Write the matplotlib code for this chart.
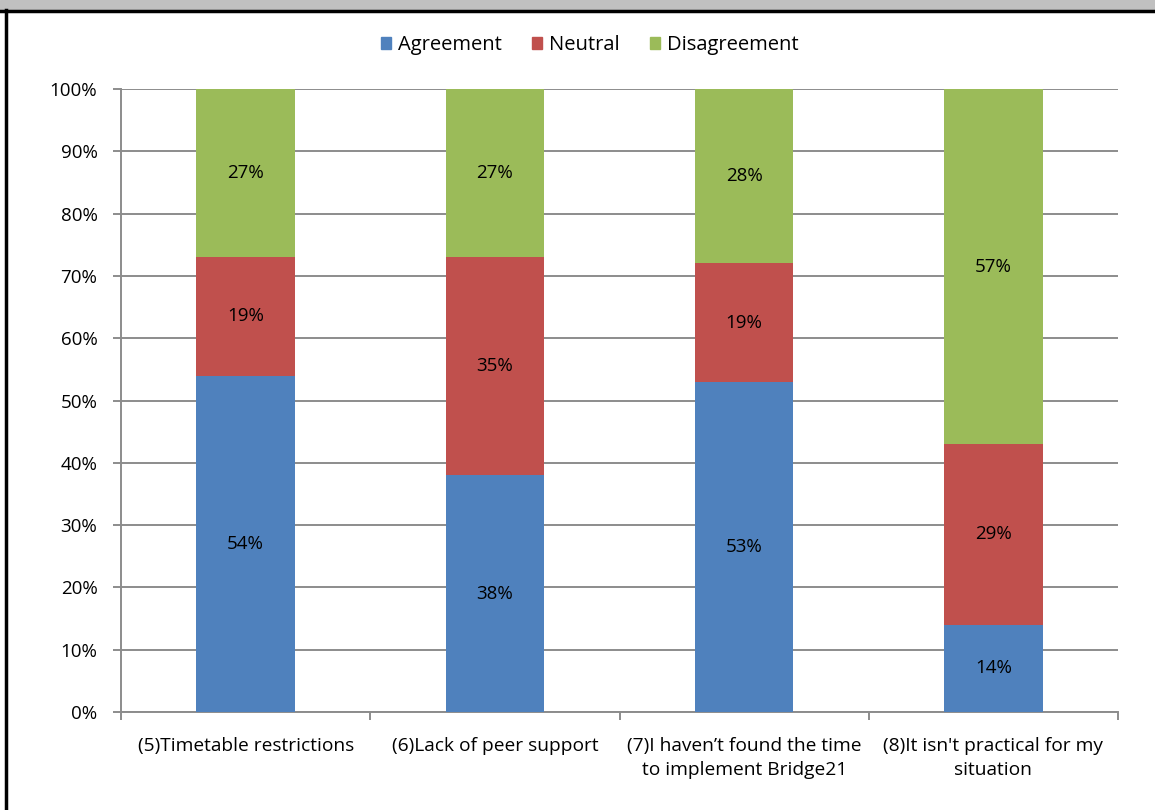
import matplotlib.pyplot as plt
from matplotlib.patches import Rectangle
from matplotlib.lines import Line2D
import numpy as np

categories = ["(5)Timetable restrictions", "(6)Lack of peer support",
              "(7)I haven\u2019t found the time\nto implement Bridge21",
              "(8)It isn't practical for my\nsituation"]
agreement = [54, 38, 53, 14]
neutral = [19, 35, 19, 29]
disagreement = [27, 27, 28, 57]
series_names = ["Agreement", "Neutral", "Disagreement"]
colors = ["#4F81BD", "#C0504D", "#9BBB59"]

plt.rcParams["font.family"] = ["Open Sans", "DejaVu Sans"]
fs = 13.8

fig = plt.figure(figsize=(11.55, 8.1), dpi=100)
W, H = 1155, 810
ax = fig.add_axes([121 / W, 1 - 712 / H, (1118 - 121) / W, (712 - 89) / H])

x = np.arange(len(categories))
bottom = np.zeros(len(categories))
for name, vals, c in zip(series_names, [agreement, neutral, disagreement], colors):
    vals = np.array(vals)
    ax.bar(x, vals, 0.395, bottom=bottom, color=c, label=name, zorder=3)
    for xi, b, v in zip(x, bottom, vals):
        ax.text(xi, b + v / 2, f"{v}%", ha="center", va="center", fontsize=13.5, color="black", zorder=4)
    bottom += vals

ax.set_xlim(-0.5, len(categories) - 0.5)
ax.set_ylim(0, 100)
ax.set_yticks(range(0, 101, 10))
ax.set_yticklabels([f"{v}%" for v in range(0, 101, 10)], fontsize=13.5)
ax.yaxis.grid(True, color="#8C8C8C", linewidth=1.4, zorder=0)
ax.set_xticks(np.arange(-0.5, len(categories), 1))
ax.set_xticklabels([])
ax.set_xticks(x, minor=True)
ax.set_xticklabels(categories, minor=True, fontsize=fs, linespacing=1.45)
ax.tick_params(axis="x", which="minor", length=0, pad=18)
ax.tick_params(axis="x", which="major", length=6, color="#8C8C8C", width=1.4)
ax.tick_params(axis="y", length=6, color="#8C8C8C", width=1.4, pad=11)
for s in ["top", "right"]:
    ax.spines[s].set_visible(False)
for s in ["left", "bottom"]:
    ax.spines[s].set_color("#8C8C8C")
    ax.spines[s].set_linewidth(1.4)

handles = [Rectangle((0, 0), 1, 1, color=c) for c in colors]
fig.legend(handles, series_names, loc="center", bbox_to_anchor=(590 / W, 1 - 45 / H), ncol=3,
           frameon=False, fontsize=14.5, handlelength=0.5, handleheight=0.5, handletextpad=0.35,
           columnspacing=1.5)

# gray header band and borders
fig.add_artist(Rectangle((0, 1 - 10 / H), 1, 10 / H, transform=fig.transFigure, color="#C0C0C0"))
fig.add_artist(Line2D([0, 1], [1 - 11 / H, 1 - 11 / H], transform=fig.transFigure, color="black", linewidth=2.5))
fig.add_artist(Line2D([6 / W, 6 / W], [0, 1 - 10 / H], transform=fig.transFigure, color="black", linewidth=2.5))

fig.savefig("out.png", dpi=100)
